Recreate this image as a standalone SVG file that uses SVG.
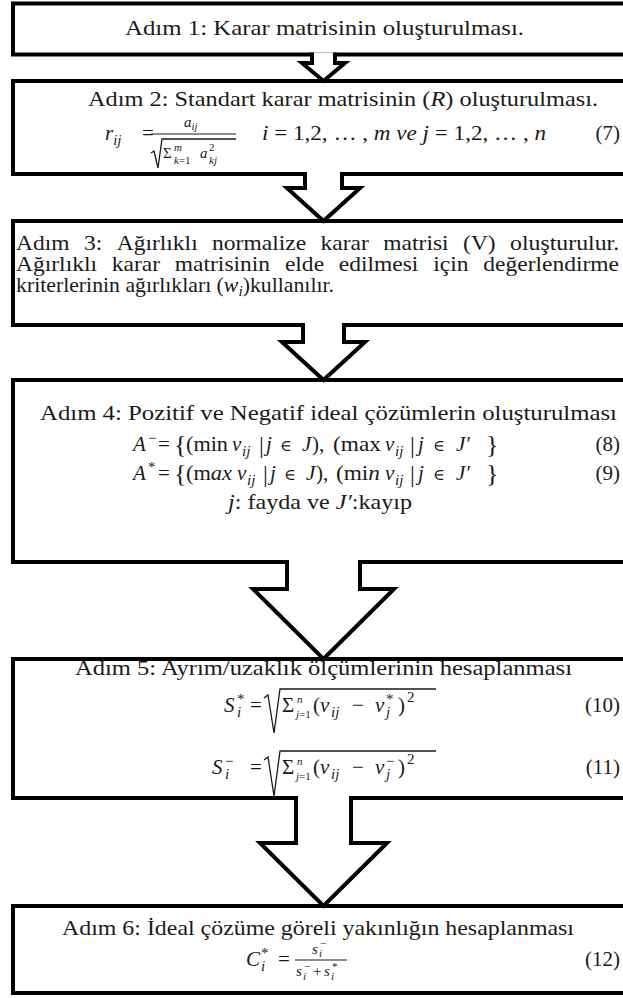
<svg xmlns="http://www.w3.org/2000/svg" width="623" height="998" viewBox="0 0 623 998">
<style>
.box{fill:#fff;stroke:#000;stroke-width:4}
.arr{fill:#fff;stroke:#000;stroke-width:4;stroke-linejoin:miter}
text{font-family:"Liberation Serif","Times New Roman",serif;font-size:21px;fill:#1a1a1a}
.i{font-style:italic}
.s{font-size:15px}
.xs{font-size:11px}
.big{font-size:26px}
.bar2{font-size:24px}
.el{font-family:"DejaVu Serif",serif;font-size:16px}
.rad{fill:none;stroke:#1a1a1a;stroke-width:1.3}
.bar{stroke:#1a1a1a;stroke-width:1.2}
.num{text-anchor:end}
</style>
<rect width="623" height="998" fill="#fff"/>

<g id="step1">
<rect class="box" x="13" y="3.5" width="630" height="51"/>
<text x="125" y="35" textLength="399" lengthAdjust="spacingAndGlyphs">Adım 1: Karar matrisinin oluşturulması.</text>
</g>

<g id="step2">
<rect class="box" x="13" y="81" width="630" height="93"/>
<text x="88" y="106" textLength="510" lengthAdjust="spacingAndGlyphs">Adım 2: Standart karar matrisinin (<tspan class="i">R</tspan>) oluşturulması.</text>
<text x="105" y="140" class="i">r<tspan class="s" dy="5">ij</tspan></text>
<text x="142" y="140">=</text>
<line class="bar" x1="151" y1="134" x2="236" y2="134"/>
<text x="184" y="127" class="i s">a<tspan class="xs" dy="3">ij</tspan></text>
<path class="rad" d="M151,153 L154,151 L158,168 L162,139 H236"/>
<text x="163" y="158" class="s">Σ</text>
<text x="174" y="151" class="xs i">m</text>
<text x="174" y="164" class="xs"><tspan class="i">k</tspan>=1</text>
<text x="200" y="158" class="s i">a</text>
<text x="209" y="151" class="xs">2</text>
<text x="209" y="164" class="xs i">kj</text>
<text x="262" y="140" textLength="284" lengthAdjust="spacingAndGlyphs"><tspan class="i">i</tspan> = 1,2, … , <tspan class="i">m ve j</tspan> = 1,2, … , <tspan class="i">n</tspan></text>
<text x="620" y="140" class="num">(7)</text>
</g>

<g id="step3">
<rect class="box" x="13" y="221" width="630" height="104"/>
<text x="16" y="250" textLength="53.5" lengthAdjust="spacingAndGlyphs">Adım</text>
<text x="83.9" y="250" textLength="18.3" lengthAdjust="spacingAndGlyphs">3:</text>
<text x="116.7" y="250" textLength="81" lengthAdjust="spacingAndGlyphs">Ağırlıklı</text>
<text x="212.1" y="250" textLength="94" lengthAdjust="spacingAndGlyphs">normalize</text>
<text x="320.6" y="250" textLength="48.3" lengthAdjust="spacingAndGlyphs">karar</text>
<text x="383.3" y="250" textLength="65.3" lengthAdjust="spacingAndGlyphs">matrisi</text>
<text x="463.1" y="250" textLength="32.6" lengthAdjust="spacingAndGlyphs">(V)</text>
<text x="510.1" y="250" textLength="109" lengthAdjust="spacingAndGlyphs">oluşturulur.</text>
<text x="16" y="271" textLength="81" lengthAdjust="spacingAndGlyphs">Ağırlıklı</text>
<text x="111.8" y="271" textLength="48.3" lengthAdjust="spacingAndGlyphs">karar</text>
<text x="174.8" y="271" textLength="95.3" lengthAdjust="spacingAndGlyphs">matrisinin</text>
<text x="284.9" y="271" textLength="39.2" lengthAdjust="spacingAndGlyphs">elde</text>
<text x="338.8" y="271" textLength="79.6" lengthAdjust="spacingAndGlyphs">edilmesi</text>
<text x="433.2" y="271" textLength="35.3" lengthAdjust="spacingAndGlyphs">için</text>
<text x="483.3" y="271" textLength="135.7" lengthAdjust="spacingAndGlyphs">değerlendirme</text>
<text x="16" y="292" textLength="318" lengthAdjust="spacingAndGlyphs">kriterlerinin ağırlıkları (<tspan class="i">w</tspan><tspan class="s i" dy="4">i</tspan><tspan dy="-4">)kullanılır.</tspan></text>
</g>

<g id="step4">
<rect class="box" x="13" y="380" width="630" height="182"/>
<text x="40" y="420" textLength="577" lengthAdjust="spacingAndGlyphs">Adım 4: Pozitif ve Negatif ideal çözümlerin oluşturulması</text>
<text x="133" y="451" class="i">A</text>
<text x="148" y="443" class="s">−</text>
<text x="158" y="451">=</text>
<text x="174" y="453" class="big">{</text>
<text x="186" y="451" textLength="42" lengthAdjust="spacingAndGlyphs">(min</text>
<text x="232" y="451" class="i">v</text>
<text x="242" y="456" class="s i">ij</text>
<text x="259" y="453" class="bar2">|</text>
<text x="266" y="451" class="i">j</text>
<text x="280" y="451" class="el">∈</text>
<text x="302" y="451" class="i">J</text>
<text x="312" y="451">),</text>
<text x="333" y="451" textLength="48" lengthAdjust="spacingAndGlyphs">(max</text>
<text x="385" y="451" class="i">v</text>
<text x="395" y="456" class="s i">ij</text>
<text x="410" y="453" class="bar2">|</text>
<text x="418" y="451" class="i">j</text>
<text x="433" y="451" class="el">∈</text>
<text x="456" y="451" class="i">J′</text>
<text x="486" y="453" class="big">}</text>
<text x="620" y="451" class="num">(8)</text>

<text x="133" y="480" class="i">A</text>
<text x="148" y="472" class="s">*</text>
<text x="158" y="480">=</text>
<text x="174" y="482" class="big">{</text>
<text x="186" y="480" textLength="46" lengthAdjust="spacingAndGlyphs">(m<tspan class="i">ax</tspan></text>
<text x="237" y="480" class="i">v</text>
<text x="247" y="485" class="s i">ij</text>
<text x="263" y="482" class="bar2">|</text>
<text x="270" y="480" class="i">j</text>
<text x="284" y="480" class="el">∈</text>
<text x="306" y="480" class="i">J</text>
<text x="316" y="480">),</text>
<text x="336" y="480" textLength="44" lengthAdjust="spacingAndGlyphs">(mi<tspan class="i">n</tspan></text>
<text x="385" y="480" class="i">v</text>
<text x="395" y="485" class="s i">ij</text>
<text x="410" y="482" class="bar2">|</text>
<text x="418" y="480" class="i">j</text>
<text x="433" y="480" class="el">∈</text>
<text x="456" y="480" class="i">J′</text>
<text x="486" y="482" class="big">}</text>
<text x="620" y="480" class="num">(9)</text>

<text x="228" y="509" textLength="184" lengthAdjust="spacingAndGlyphs"><tspan class="i">j</tspan>: fayda ve <tspan class="i">J′</tspan>:kayıp</text>
</g>

<g id="step5">
<rect class="box" x="13" y="659" width="630" height="139"/>
<text x="75" y="675" textLength="497" lengthAdjust="spacingAndGlyphs">Adım 5: Ayrım/uzaklık ölçümlerinin hesaplanması</text>

<text x="224" y="712" class="i">S</text>
<text x="237" y="717" class="s i">i</text>
<text x="237" y="704" class="s">*</text>
<text x="250" y="712">=</text>
<path class="rad" d="M264,698 L268,695 L274,733 L280,689 H436"/>
<text x="282" y="712">Σ</text>
<text x="297" y="703" class="xs i">n</text>
<text x="296" y="718" class="xs"><tspan class="i">j</tspan>=1</text>
<text x="313" y="712">(</text>
<text x="320" y="712" class="i">v</text>
<text x="331" y="717" class="s i">ij</text>
<text x="352" y="712">−</text>
<text x="375" y="712" class="i">v</text>
<text x="386" y="717" class="s i">j</text>
<text x="386" y="704" class="s">*</text>
<text x="398" y="712">)</text>
<text x="407" y="702" class="s">2</text>
<text x="620" y="712" class="num">(10)</text>

<text x="212" y="774" class="i">S</text>
<text x="225" y="779" class="s i">i</text>
<text x="225" y="766" class="s">−</text>
<text x="250" y="774">=</text>
<path class="rad" d="M264,760 L268,757 L274,796 L280,751 H436"/>
<text x="282" y="774">Σ</text>
<text x="297" y="765" class="xs i">n</text>
<text x="296" y="780" class="xs"><tspan class="i">j</tspan>=1</text>
<text x="313" y="774">(</text>
<text x="320" y="774" class="i">v</text>
<text x="331" y="779" class="s i">ij</text>
<text x="352" y="774">−</text>
<text x="375" y="774" class="i">v</text>
<text x="386" y="779" class="s i">j</text>
<text x="386" y="766" class="s">−</text>
<text x="398" y="774">)</text>
<text x="407" y="764" class="s">2</text>
<text x="620" y="774" class="num">(11)</text>
</g>

<g id="step6">
<rect class="box" x="13" y="906" width="630" height="87"/>
<text x="62" y="935" textLength="512" lengthAdjust="spacingAndGlyphs">Adım 6: İdeal çözüme göreli yakınlığın hesaplanması</text>
<text x="246" y="966" class="i">C</text>
<text x="261" y="971" class="s i">i</text>
<text x="261" y="958" class="s">*</text>
<text x="278" y="966">=</text>
<line class="bar" x1="295" y1="960" x2="347" y2="960"/>
<text x="312" y="954" class="s i">s</text>
<text x="319" y="957" class="xs i">i</text>
<text x="320" y="947" class="xs">−</text>
<text x="296" y="976" class="s i">s</text>
<text x="303" y="980" class="xs i">i</text>
<text x="304" y="970" class="xs">−</text>
<text x="313" y="976" class="s">+</text>
<text x="324" y="976" class="s i">s</text>
<text x="331" y="980" class="xs i">i</text>
<text x="332" y="970" class="xs">*</text>
<text x="620" y="966" class="num">(12)</text>
</g>

<g id="connectors">
<path class="arr" d="M312,52.5 V63 H302 L323.5,81 L345,63 H335 V52.5"/>
<path class="arr" d="M305,172 V188 H287 L323.5,221 L360,188 H342 V172"/>
<path class="arr" d="M303,323 V342 H282 L323.5,380 L365,342 H344 V323"/>
<path class="arr" d="M287,560 V589 H253 L323.5,659 L394,589 H360 V560"/>
<path class="arr" d="M296,796 V843 H260 L323.5,906 L387,843 H351 V796"/>
</g>
</svg>
